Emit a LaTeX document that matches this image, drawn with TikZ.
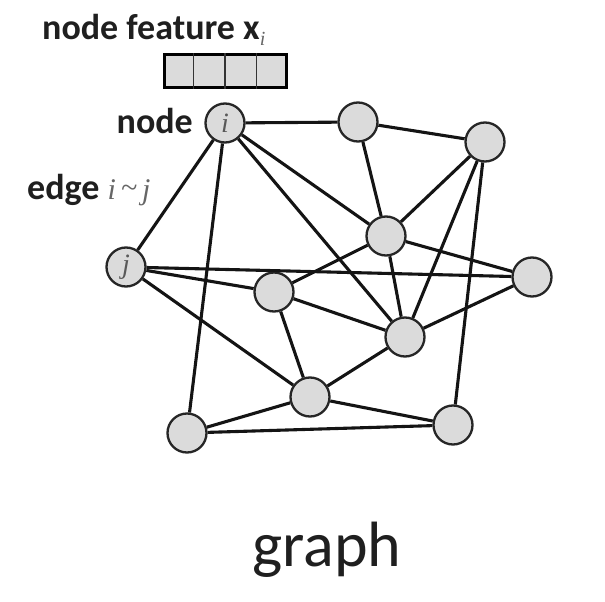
\documentclass[tikz,border=0pt]{standalone}
\usepackage{fontspec}
\setmainfont{Carlito}
\newfontfamily\lserif{Liberation Serif}
\usetikzlibrary{calc}
\begin{document}
\begin{tikzpicture}[x=1pt,y=-1pt,
  vtx/.style={circle,draw=black!85,line width=2.3pt,fill=black!14,minimum size=39pt,inner sep=0pt,font=\fontsize{28}{28}\selectfont\lserif\itshape\color{black!65}},
  edg/.style={line width=3.1pt,black!92},
  lbl/.style={font=\fontsize{36}{40}\selectfont\bfseries,text=black!88,inner sep=0pt}]
\useasboundingbox (0,0) rectangle (605,602);
\node[vtx] (i) at (225,123) {i};
\node[vtx] (n2) at (358,122) {};
\node[vtx] (n3) at (485,142) {};
\node[vtx] (n4) at (386,236) {};
\node[vtx] (j) at (126,267) {j};
\node[vtx] (n6) at (532,277) {};
\node[vtx] (n7) at (274,292) {};
\node[vtx] (n8) at (405,337) {};
\node[vtx] (n9) at (310,397) {};
\node[vtx] (n10) at (187,433) {};
\node[vtx] (n11) at (453,425) {};
\foreach \a/\b in {i/n2,n2/n3,n2/n4,i/j,i/n10,i/n4,i/n8,n3/n4,n3/n8,n3/n11,n4/n7,n4/n6,n4/n8,j/n6,j/n7,j/n9,n7/n8,n7/n9,n8/n6,n8/n9,n9/n10,n9/n11,n10/n11}
  \draw[edg] (\a) -- (\b);
% feature vector
\node[draw=black,line width=3pt,fill=black!14,minimum width=122pt,minimum height=32pt,inner sep=0pt] (fv) at (225,71) {};
\foreach \k in {1,2,3}
  \draw[line width=1.2pt,black!80] ($(fv.north west)!\k/4!(fv.north east)$) -- ($(fv.south west)!\k/4!(fv.south east)$);
\node[lbl,anchor=base west] (t1) at (42,40) {node feature x\raisebox{-0.3ex}{\fontsize{20}{20}\selectfont\lserif\mdseries\itshape\color{black!60}i}};
\node[lbl,anchor=base east] (t2) at (193,133) {node};
\node[lbl,anchor=base west] (t3) at (27,199) {edge {\fontsize{30}{30}\selectfont\lserif\mdseries\itshape\color{black!60}i\,\raisebox{0.1ex}{\textasciitilde}\,j}};
\node[font=\fontsize{64}{66}\selectfont,text=black!88,anchor=base] (g) at (327,566) {graph};
\end{tikzpicture}
\end{document}
